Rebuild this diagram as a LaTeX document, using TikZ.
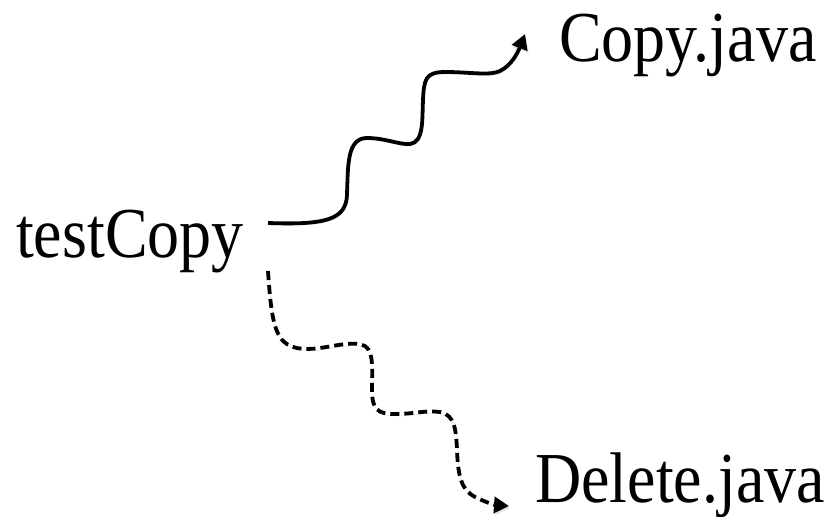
\documentclass[tikz,border=0pt]{standalone}
\usepackage{fontspec}
\setmainfont{Liberation Serif}
\usetikzlibrary{arrows.meta}

\tikzset{
  label/.style={inner sep=0pt, anchor=base west, font=\fontsize{64bp}{70bp}\selectfont},
  link/.style={line width=3.8bp, -{Triangle[length=15bp,width=16bp]}},
  dlink/.style={link, dash pattern=on 9bp off 5bp},
  shadowed/.style={preaction={draw=black!25, opacity=0.5, transform canvas={shift={(1bp,-2bp)}}}}
}
\newcommand{\tall}[1]{\scalebox{1}[1.12]{#1}}

\begin{document}
\begin{tikzpicture}[x=1bp, y=-1bp]
  \useasboundingbox (0,0) rectangle (838,517);

  \node[label] (test) at (16,258) {\tall{testCopy}};
  \node[label] (copy) at (559,62) {\tall{Copy.java}};
  \node[label] (del) at (535,502) {\tall{Delete.java}};

  \coordinate (s0) at (268,223);
  \coordinate (s1) at (525,34);
  \coordinate (d0) at (268,271);
  \coordinate (d1) at (509,506);

  % call into Copy.java
  \draw[link, shadowed] (s0) .. controls (325,225) and (346,220) .. (347,195)
    .. controls (348,165) and (347,138) .. (367,138)
    .. controls (385,138) and (400,145) .. (410,144)
    .. controls (424,142) and (422,120) .. (423,100)
    .. controls (424,80) and (425,72) .. (445,72)
    .. controls (470,72) and (490,76) .. (500,71)
    .. controls (512,65) and (518,52) .. (s1);

  % dashed call into Delete.java
  \draw[dlink, shadowed] (d0) .. controls (270,300) and (272,325) .. (280,337)
    .. controls (288,350) and (305,350) .. (320,348)
    .. controls (340,345) and (355,341) .. (365,346)
    .. controls (374,352) and (372,370) .. (372,390)
    .. controls (372,410) and (378,414) .. (395,414)
    .. controls (415,414) and (425,410) .. (440,412)
    .. controls (455,415) and (456,430) .. (457,450)
    .. controls (458,478) and (462,490) .. (475,497)
    .. controls (485,502) and (495,505) .. (d1);
\end{tikzpicture}
\end{document}
